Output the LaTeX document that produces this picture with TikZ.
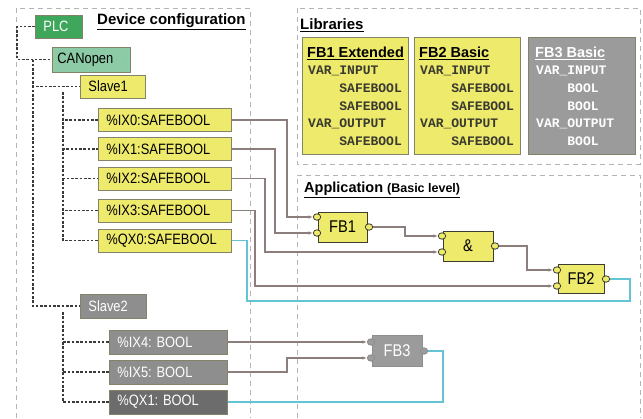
\documentclass[tikz,border=0pt]{standalone}
\usepackage{fontspec}
\setmainfont{Liberation Sans}
\newfontfamily\narrowf[FakeStretch=0.86]{Liberation Sans}
\newfontfamily\monof{Liberation Mono}
\usetikzlibrary{arrows.meta,shapes.geometric}
\definecolor{yel}{HTML}{EEEA6C}
\definecolor{cfgb}{HTML}{85826A}
\definecolor{fbline}{HTML}{3C3C30}
\definecolor{plcg}{HTML}{3FA75B}
\definecolor{cang}{HTML}{8CCBA6}
\definecolor{grayA}{HTML}{8E8E8E}
\definecolor{grayB}{HTML}{6C6C6C}
\definecolor{grayL}{HTML}{9B9B9B}
\definecolor{framec}{HTML}{B4B4B4}
\definecolor{treec}{HTML}{3A3A3A}
\definecolor{wirec}{HTML}{8C7E7C}
\definecolor{cyanc}{HTML}{62C4D4}
\definecolor{monoc}{HTML}{3A3A30}
\begin{document}
\begin{tikzpicture}[x=1pt,y=-1pt,
  frame/.style={draw=framec,line width=0.9pt,dash pattern=on 5pt off 4pt},
  tree/.style={draw=treec,line width=1.3pt,dash pattern=on 2.6pt off 1.7pt},
  cfg/.style={rectangle,draw=cfgb,line width=0.8pt,fill=yel,inner xsep=8pt,inner ysep=0pt,minimum height=23pt,anchor=west,font=\narrowf\fontsize{15}{17}\selectfont},
  cfggray/.style={cfg,fill=grayA,text=white,minimum height=24pt},
  fbb/.style={rectangle,draw=fbline,line width=0.9pt,fill=yel,inner sep=0pt,font=\narrowf\fontsize{17}{19}\selectfont},
  port/.style={ellipse,draw=fbline,line width=0.8pt,fill=yel,minimum width=7.5pt,minimum height=6.5pt,inner sep=0pt},
  wire/.style={draw=wirec,line width=1.3pt},
  arr/.style={wire,-{Latex[length=4.5pt,width=3.5pt]}},
  cwire/.style={draw=cyanc,line width=1.3pt},
  libbox/.style={rectangle,draw=cfgb,line width=0.8pt,fill=yel,inner sep=0pt,anchor=north west,minimum width=106pt,minimum height=117pt},
  libtitle/.style={anchor=west,inner sep=0pt,font=\bfseries\fontsize{14.5}{16}\selectfont},
  libbody/.style={anchor=north west,inner sep=0pt,align=left,text=monoc,font=\monof\bfseries\fontsize{13}{17.7}\selectfont},
  head/.style={anchor=west,inner sep=0pt,font=\bfseries\fontsize{15}{17}\selectfont}
]
\useasboundingbox (0,0) rectangle (643,418);
\fill[white] (0,0) rectangle (643,418);

% frames
\draw[frame] (16,418) -- (16,8) -- (250,8) -- (250,418);
\draw[frame] (297,8) rectangle (640,164);
\draw[frame] (297,418) -- (297,175) -- (640,175) -- (640,418);

% headers
\node[head] (hdev) at (97,22) {\underline{Device configuration}};
\node[head] (hlib) at (300,25) {\underline{Libraries}};
\node[head,font=\bfseries\fontsize{14.5}{16}\selectfont] (happ) at (304,190) {\underline{Application {\fontsize{12.5}{14}\selectfont(Basic level)}}};

% device tree nodes
\node[cfg,fill=plcg,text=white] (plc) at (35,26.5) {\makebox[31pt][l]{PLC}};
\node[cfg,fill=cang,inner xsep=5pt,minimum height=25pt] (can) at (52,59.5) {\makebox[68pt][l]{CANopen}};
\node[cfg] (s1) at (80,86.5) {\makebox[49pt][l]{Slave1}};
\node[cfg] (ix0) at (98,120) {\makebox[117pt][l]{\%IX0:SAFEBOOL}};
\node[cfg] (ix1) at (98,149) {\makebox[117pt][l]{\%IX1:SAFEBOOL}};
\node[cfg] (ix2) at (98,178.5) {\makebox[117pt][l]{\%IX2:SAFEBOOL}};
\node[cfg] (ix3) at (98,210.5) {\makebox[117pt][l]{\%IX3:SAFEBOOL}};
\node[cfg] (qx0) at (98,240.5) {\makebox[117pt][l]{\%QX0:SAFEBOOL}};
\node[cfggray] (s2) at (80,306) {\makebox[50pt][l]{Slave2}};
\node[cfggray] (ix4) at (109,342) {\makebox[102pt][l]{\%IX4: BOOL}};
\node[cfggray] (ix5) at (109,372) {\makebox[102pt][l]{\%IX5: BOOL}};
\node[cfggray,fill=grayB] (qx1) at (109,402) {\makebox[102pt][l]{\%QX1: BOOL}};

% tree connectors
\coordinate (pv) at (17,26.5);
\draw[tree] (plc.west) -- (pv) |- (can.west);
\coordinate (cv) at (33,59.5);
\draw[tree] (cv) |- (s2.west);
\draw[tree] (cv) |- (s1.west);
\coordinate (sv1) at (63,92);
\foreach \n in {ix0,ix1,ix2,ix3,qx0} \draw[tree] (sv1) |- (\n.west);
\coordinate (sv2) at (63,312);
\foreach \n in {ix4,ix5,qx1} \draw[tree] (sv2) |- (\n.west);

% libraries
\node[libbox] (lib1) at (302,37) {};
\node[libtitle] (lib1t) at (307,53) {\underline{FB1 Extended}};
\node[libbody] (lib1b) at (308,66) {VAR\_INPUT\\\phantom{VAR\_}SAFEBOOL\\\phantom{VAR\_}SAFEBOOL\\VAR\_OUTPUT\\\phantom{VAR\_}SAFEBOOL};
\node[libbox] (lib2) at (414,37) {};
\node[libtitle] (lib2t) at (419,53) {\underline{FB2 Basic}};
\node[libbody] (lib2b) at (420,66) {VAR\_INPUT\\\phantom{VAR\_}SAFEBOOL\\\phantom{VAR\_}SAFEBOOL\\VAR\_OUTPUT\\\phantom{VAR\_}SAFEBOOL};
\node[libbox,fill=grayL,minimum width=107pt] (lib3) at (528,37) {};
\node[libtitle,text=white] (lib3t) at (535,53) {\underline{FB3 Basic}};
\node[libbody,text=white] (lib3b) at (536,66) {VAR\_INPUT\\\phantom{VAR\_}BOOL\\\phantom{VAR\_}BOOL\\VAR\_OUTPUT\\\phantom{VAR\_}BOOL};

% function blocks
\node[fbb,minimum width=49pt,minimum height=30pt] (fb1) at (342.5,227) {FB1};
\node[fbb,minimum width=50pt,minimum height=30pt] (and) at (468,246) {\&};
\node[fbb,minimum width=46pt,minimum height=29pt] (fb2) at (581,278.5) {FB2};
\node[fbb,fill=grayL,draw=grayA,text=white,minimum width=50pt,minimum height=31pt] (fb3) at (397,350.5) {FB3};

\node[port] (fb1i1) at (317,217) {};
\node[port] (fb1i2) at (317,233) {};
\node[port] (fb1o) at (369,227) {};
\node[port] (andi1) at (442,236) {};
\node[port] (andi2) at (442,252) {};
\node[port] (ando) at (495,246) {};
\node[port] (fb2i1) at (557,270) {};
\node[port] (fb2i2) at (557,286) {};
\node[port] (fb2o) at (606,279) {};
\node[port,fill=grayL,draw=grayA] (fb3i1) at (371,342) {};
\node[port,fill=grayL,draw=grayA] (fb3i2) at (371,358) {};
\node[port,fill=grayL,draw=grayA] (fb3o) at (424,351) {};

% wires
\draw[arr] (ix0.east) -- (287,120) |- (fb1i1.west);
\draw[arr] (ix1.east) -- (275,149) |- (fb1i2.west);
\draw[arr] (ix2.east) -- (265,178.5) |- (andi2.west);
\draw[arr] (ix3.east) -- (255,210.5) |- (fb2i2.west);
\draw[arr] (fb1o.east) -- (405,227) |- (andi1.west);
\draw[arr] (ando.east) -- (527,246) |- (fb2i1.west);
\draw[cwire] (fb2o.east) -| (630,301) -| (247,240.5) -- (qx0.east);
\draw[arr] (ix4.east) -- (fb3i1.west);
\draw[arr] (ix5.east) -- (287,372) |- (fb3i2.west);
\draw[cwire] (fb3o.east) -| (443,402) -- (qx1.east);
\end{tikzpicture}
\end{document}
